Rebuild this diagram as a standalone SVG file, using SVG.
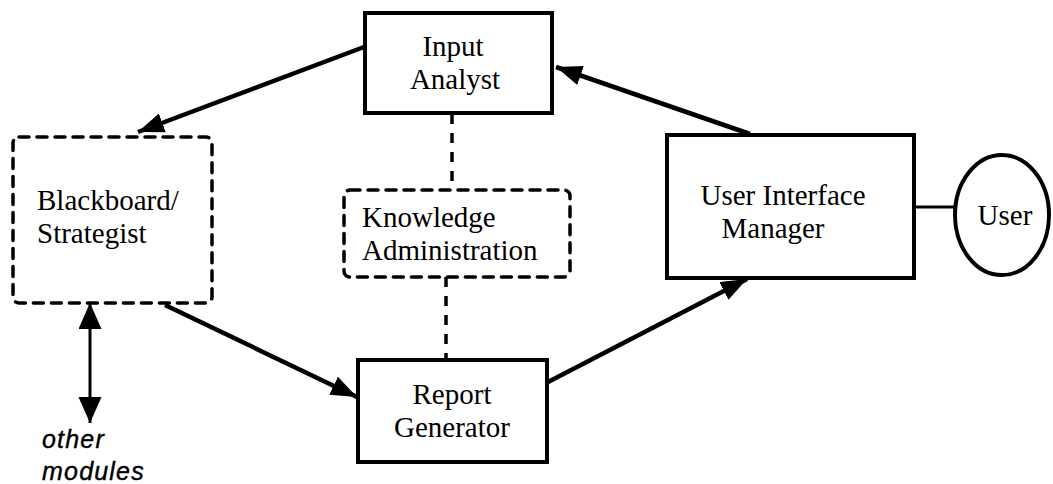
<svg xmlns="http://www.w3.org/2000/svg" width="1053" height="484" viewBox="0 0 1053 484">
<defs>
<style>
.solid{fill:#fff;stroke:#000;stroke-width:4}
.dash{fill:none;stroke:#000;stroke-width:3.5;stroke-dasharray:10 8;stroke-linecap:round}
.lbl{font-family:"Liberation Serif","Times New Roman",serif;font-size:29px;fill:#000}
.mid{text-anchor:middle}
.it{font-family:"Liberation Sans",Arial,sans-serif;font-style:italic;font-size:25px;letter-spacing:1.2px;fill:#000;stroke:#000;stroke-width:0.4}
.arr{fill:none;stroke:#000;stroke-width:4.5}
.thin{fill:none;stroke:#000;stroke-width:3}
.dl{fill:none;stroke:#000;stroke-width:3.5;stroke-dasharray:10 9}
</style>
<marker id="ah" markerUnits="userSpaceOnUse" markerWidth="28" markerHeight="22" refX="26" refY="10" orient="auto" viewBox="0 0 28 22">
<path d="M0,0 L26,10 L0,20 z" fill="#000"/>
</marker>
<marker id="ah2" markerUnits="userSpaceOnUse" markerWidth="28" markerHeight="24" refX="26" refY="11.5" orient="auto-start-reverse" viewBox="0 0 28 24">
<path d="M0,0 L26,11.5 L0,23 z" fill="#000"/>
</marker>
</defs>
<rect width="1053" height="484" fill="#fff"/>
<g id="connectors">
<line class="arr" x1="364" y1="47" x2="138" y2="132" marker-end="url(#ah)"/>
<line class="arr" x1="750" y1="134" x2="556" y2="67" marker-end="url(#ah)"/>
<line class="arr" x1="165" y1="305" x2="357" y2="397" marker-end="url(#ah)"/>
<line class="arr" x1="548" y1="382" x2="747" y2="279" marker-end="url(#ah)"/>
<line class="thin" x1="90" y1="303" x2="90" y2="423" marker-start="url(#ah2)" marker-end="url(#ah2)"/>
<line class="thin" x1="914" y1="207" x2="955" y2="207"/>
<line class="dl" x1="452" y1="114" x2="452" y2="190"/>
<line class="dl" x1="446" y1="277" x2="446" y2="360"/>
</g>
<g id="input-analyst">
<rect class="solid" x="365" y="13" width="187" height="100"/>
<text class="lbl mid" x="453" y="56">Input</text>
<text class="lbl mid" x="455" y="89">Analyst</text>
</g>
<g id="blackboard">
<rect class="dash" x="13" y="137" width="199" height="166" rx="6"/>
<text class="lbl" x="37" y="210">Blackboard/</text>
<text class="lbl" x="37" y="243">Strategist</text>
</g>
<g id="knowledge">
<rect class="dash" x="344" y="190" width="226" height="87" rx="6"/>
<text class="lbl" x="362" y="227">Knowledge</text>
<text class="lbl" x="362" y="260">Administration</text>
</g>
<g id="report">
<rect class="solid" x="358" y="360" width="189" height="102"/>
<text class="lbl mid" x="452" y="404">Report</text>
<text class="lbl mid" x="452" y="437">Generator</text>
</g>
<g id="uim">
<rect class="solid" x="667" y="135" width="247" height="143"/>
<text class="lbl mid" x="783" y="205">User Interface</text>
<text class="lbl mid" x="773" y="238">Manager</text>
</g>
<g id="user">
<ellipse class="solid" cx="1002" cy="215" rx="47" ry="60" stroke-width="3"/>
<text class="lbl mid" x="1005" y="225">User</text>
</g>
<g id="other-modules">
<text class="it" x="42" y="448">other</text>
<text class="it" x="42" y="480">modules</text>
</g>
</svg>
